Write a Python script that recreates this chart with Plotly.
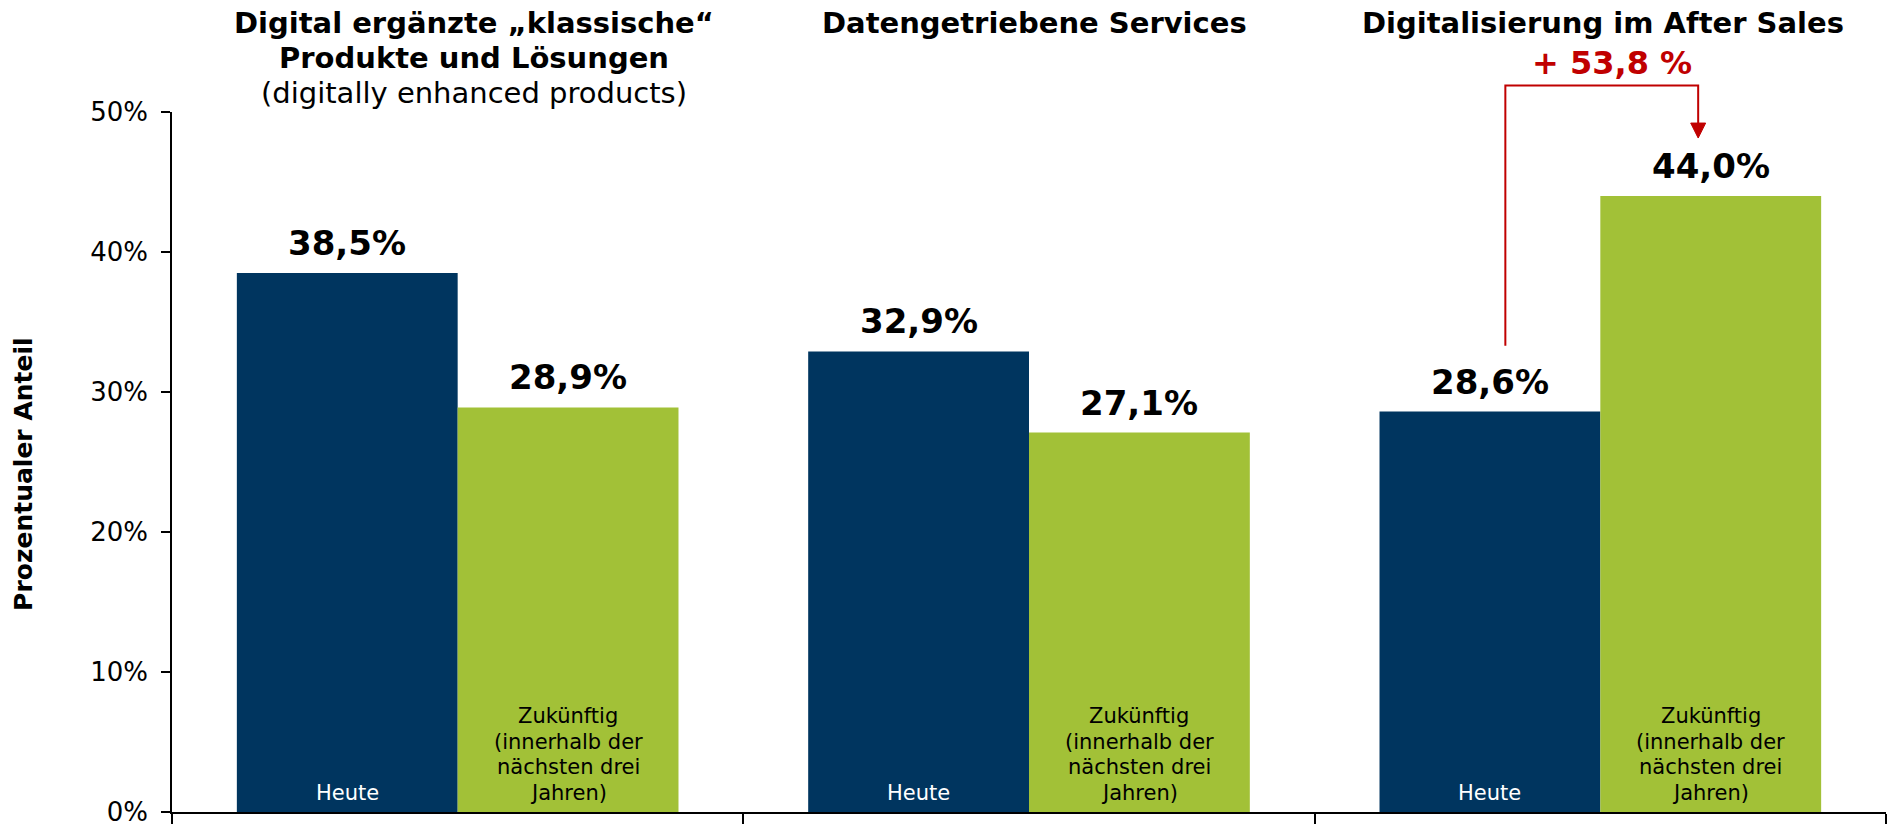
import plotly.graph_objects as go

# ---- data ----
categories = ["Digital ergänzte klassische Produkte", "Datengetriebene Services", "Digitalisierung im After Sales"]
heute = [38.5, 32.9, 28.6]
zukuenftig = [28.9, 27.1, 44.0]
heute_labels = ["38,5%", "32,9%", "28,6%"]
zukuenftig_labels = ["28,9%", "27,1%", "44,0%"]
titles_bold = [["Digital ergänzte „klassische“", "Produkte und Lösungen"], ["Datengetriebene Services"], ["Digitalisierung im After Sales"]]
titles_sub = ["(digitally enhanced products)", None, None]
heute_text = ["Heute"]
zukunft_text = ["Zukünftig", "(innerhalb der", "nächsten drei", "Jahren)"]
y_tickvals = [0, 10, 20, 30, 40, 50]
y_ticktext = ["0%", "10%", "20%", "30%", "40%", "50%"]
growth_label = "+ 53,8 %"

NAVY = "#00355F"
GREEN = "#A2C137"
RED = "#C00000"
FONT = "DejaVu Sans"

Y_MAX = 50
N = len(categories)
x_idx = list(range(N))
title_xshift = [16, 5, 3]

fig = go.Figure()
fig.add_trace(go.Bar(x=x_idx, y=heute, marker=dict(color=NAVY, line=dict(width=0)), name="Heute"))
fig.add_trace(go.Bar(x=x_idx, y=zukuenftig, marker=dict(color=GREEN, line=dict(width=0)), name="Zukünftig"))

BARGAP = 0.227
BW = (1 - BARGAP) / 2  # bar width in category units
off = BW / 2


def xp(xc):
    """category-unit x -> paper x"""
    return (xc + 0.5) / N


def yp(v):
    """data y -> paper y"""
    return v / Y_MAX


ann = []
LINE_H = 25.7
for i in x_idx:
    # value labels
    ann.append(dict(x=i - off, y=heute[i], text=f"<b>{heute_labels[i]}</b>", showarrow=False,
                    yanchor="bottom", yshift=8, font=dict(size=34, color="black", family=FONT)))
    ann.append(dict(x=i + off, y=zukuenftig[i], text=f"<b>{zukuenftig_labels[i]}</b>", showarrow=False,
                    yanchor="bottom", yshift=8, font=dict(size=34, color="black", family=FONT)))
    # inside labels (one annotation per line, bottom line 19px above the base)
    for k, line in enumerate(reversed(heute_text)):
        ann.append(dict(x=i - off, y=0, text=line, showarrow=False, yanchor="middle", yshift=19 + LINE_H * k,
                        font=dict(size=21, color="white", family=FONT)))
    for k, line in enumerate(reversed(zukunft_text)):
        ann.append(dict(x=i + off, y=0, text=line, showarrow=False, yanchor="middle", yshift=19 + LINE_H * k,
                        font=dict(size=21, color="black", family=FONT)))
    # titles (one annotation per line)
    lines = [(f"<b>{t}</b>") for t in titles_bold[i]]
    if titles_sub[i]:
        lines.append(titles_sub[i])
    for k, line in enumerate(lines):
        ann.append(dict(x=i, xref="x", xanchor="center", xshift=title_xshift[i], y=1.0, yref="paper",
                        yanchor="middle", yshift=89 - 35 * k,
                        text=line, showarrow=False, font=dict(size=29, color="black", family=FONT)))

# y-axis title
ann.append(dict(x=0, xref="paper", y=0.483, yref="paper", text="<b>Prozentualer Anteil</b>", textangle=-90,
                showarrow=False, xanchor="center", xshift=-148, font=dict(size=25, color="black", family=FONT)))

# growth arrow for After Sales
g = 2
x_left = g - off + 0.027
x_right = g + off - 0.022
y_top = 51.9
y_low = heute[g] + 4.7
y_tip = zukuenftig[g] + 4.14
head_h = 1.07
head_hw = 0.0131

ann.append(dict(x=xp((x_left + x_right) / 2), xref="paper", xanchor="center", xshift=10,
                y=yp(y_top), yref="paper", text=f"<b>{growth_label}</b>", showarrow=False,
                yanchor="middle", yshift=22, font=dict(size=32, color=RED, family=FONT)))

shapes = [
    dict(type="path", xref="paper", yref="paper",
         path=(f"M {xp(x_left)},{yp(y_low)} L {xp(x_left)},{yp(y_top)} "
               f"L {xp(x_right)},{yp(y_top)} L {xp(x_right)},{yp(y_tip + head_h)}"),
         line=dict(color=RED, width=2)),
    dict(type="path", xref="paper", yref="paper",
         path=(f"M {xp(x_right - head_hw)},{yp(y_tip + head_h)} L {xp(x_right + head_hw)},{yp(y_tip + head_h)} "
               f"L {xp(x_right)},{yp(y_tip)} Z"),
         fillcolor=RED, line=dict(color=RED, width=1)),
]

fig.update_layout(
    width=1898, height=826,
    margin=dict(l=172, r=12, t=112, b=14),
    paper_bgcolor="white", plot_bgcolor="white",
    barmode="group", bargap=BARGAP, bargroupgap=0,
    showlegend=False,
    annotations=ann, shapes=shapes,
    font=dict(family=FONT, color="black"),
)
fig.update_xaxes(range=[-0.5, N - 0.5], tickvals=[k - 0.5 for k in range(N + 1)], ticktext=[""] * (N + 1),
                 ticks="outside", ticklen=10, tickwidth=1.5, tickcolor="black", automargin=False,
                 showline=True, linecolor="black", linewidth=2, showgrid=False, zeroline=False)
fig.update_yaxes(range=[0, Y_MAX], tickvals=y_tickvals, ticktext=y_ticktext,
                 ticks="outside", ticklen=9, tickwidth=1.5, tickcolor="black", automargin=False,
                 showline=True, linecolor="black", linewidth=1.5, showgrid=False, zeroline=False,
                 tickfont=dict(size=26, family=FONT, color="black"), ticklabelstandoff=8,
                 ticklabeloverflow="allow")

# remove the browser's default 8px body margin so the figure fills the window exactly
fig.write_html("out.html", config={"displayModeBar": False},
               post_script="document.body.style.margin='0';document.body.style.overflow='hidden';")
